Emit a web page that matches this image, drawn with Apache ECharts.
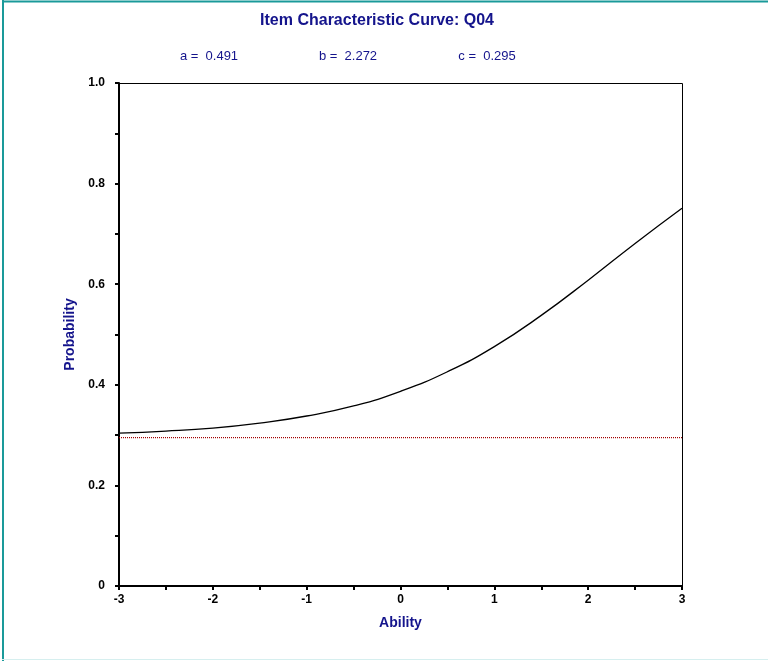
<!DOCTYPE html>
<html>
<head>
<meta charset="utf-8">
<script src="https://cdn.jsdelivr.net/npm/echarts@6/dist/echarts.min.js"></script>
<style>
html,body{margin:0;padding:0;background:#fff;}
#chart{width:768px;height:661px;}
</style>
</head>
<body>
<div id="chart"></div>
<script>
var abilities = [-3, -2.5, -2, -1.5, -1, -0.5, 0, 0.5, 1, 1.5, 2, 2.5, 3];
var probabilities = [0.304, 0.308, 0.314, 0.324, 0.338, 0.358, 0.387, 0.426, 0.476, 0.538, 0.608, 0.681, 0.751];
var guessingX = [-3, 3];
var guessingLevel = 0.295;
var paramLabels = ['a =  0.491', 'b =  2.272', 'c =  0.295'];
var xTicks = [-3, -2, -1, 0, 1, 2, 3];
var yTicks = [0, 0.2, 0.4, 0.6, 0.8, 1.0];

var navy = '#14148c';
var fontFam = '"Liberation Sans", Arial, sans-serif';

var chart = echarts.init(document.getElementById('chart'), null, {renderer: 'canvas'});
var option = {
  backgroundColor: '#ffffff',
  animation: false,
  title: [
    {text: 'Item Characteristic Curve: Q04', left: 372, top: 8, textAlign: 'center',
     textStyle: {color: navy, fontSize: 16, fontWeight: 'bold', fontFamily: fontFam}},
    {text: paramLabels[0], left: 204, top: 45, textAlign: 'center',
     textStyle: {color: navy, fontSize: 13, fontWeight: 'normal', fontFamily: fontFam}},
    {text: paramLabels[1], left: 343, top: 45, textAlign: 'center',
     textStyle: {color: navy, fontSize: 13, fontWeight: 'normal', fontFamily: fontFam}},
    {text: paramLabels[2], left: 482, top: 45, textAlign: 'center',
     textStyle: {color: navy, fontSize: 13, fontWeight: 'normal', fontFamily: fontFam}}
  ],
  graphic: [
    {type: 'line', shape: {x1: 3, y1: 0, x2: 3, y2: 661}, style: {stroke: '#1a9a9a', lineWidth: 2}},
    {type: 'line', shape: {x1: 2, y1: 1.5, x2: 768, y2: 1.5}, style: {stroke: '#1a9a9a', lineWidth: 2}},
    {type: 'line', shape: {x1: 2, y1: 659.5, x2: 768, y2: 659.5}, style: {stroke: '#d6efef', lineWidth: 1}},
    {type: 'rect', shape: {x: 119.5, y: 83.5, width: 563, height: 503}, style: {fill: 'none', stroke: '#000', lineWidth: 1}}
  ],
  grid: {left: 119, top: 83, width: 563, height: 503, containLabel: false, show: false},
  xAxis: {
    type: 'value', min: -3, max: 3, interval: 0.5,
    name: 'Ability', nameLocation: 'middle', nameGap: 30,
    nameTextStyle: {color: navy, fontSize: 14, fontWeight: 'bold', fontFamily: fontFam},
    axisLine: {show: true, onZero: false, lineStyle: {color: '#000', width: 2}},
    axisTick: {show: true, length: 4, lineStyle: {color: '#000', width: 2}},
    splitLine: {show: false},
    axisLabel: {
      color: '#000', fontSize: 12, fontWeight: 'bold', fontFamily: fontFam, margin: 8,
      formatter: function (v) { return xTicks.indexOf(v) >= 0 ? String(v) : ''; }
    }
  },
  yAxis: {
    type: 'value', min: 0, max: 1, interval: 0.1,
    name: 'Probability', nameLocation: 'middle', nameGap: 36,
    nameTextStyle: {color: navy, fontSize: 14, fontWeight: 'bold', fontFamily: fontFam},
    axisLine: {show: true, onZero: false, lineStyle: {color: '#000', width: 2}},
    axisTick: {show: true, length: 4, lineStyle: {color: '#000', width: 2}},
    splitLine: {show: false},
    axisLabel: {
      color: '#000', fontSize: 12, fontWeight: 'bold', fontFamily: fontFam, margin: 14,
      formatter: function (v) {
        var r = Math.round(v * 10) / 10;
        var ok = yTicks.some(function (t) { return Math.abs(t - r) < 1e-9; });
        if (!ok || Math.abs(v - r) > 1e-9) return '';
        return r === 0 ? '0' : r.toFixed(1);
      }
    }
  },
  series: [
    {
      type: 'line', name: 'guessing',
      data: guessingX.map(function (x) { return [x, guessingLevel]; }),
      showSymbol: false, symbol: 'none',
      lineStyle: {color: '#a00000', width: 1.2, type: [1, 1]}
    },
    {
      type: 'line', name: 'ICC',
      data: abilities.map(function (x, i) { return [x, probabilities[i]]; }),
      smooth: true, showSymbol: false, symbol: 'none',
      lineStyle: {color: '#000', width: 1.3}
    }
  ]
};
chart.setOption(option);
</script>
</body>
</html>
